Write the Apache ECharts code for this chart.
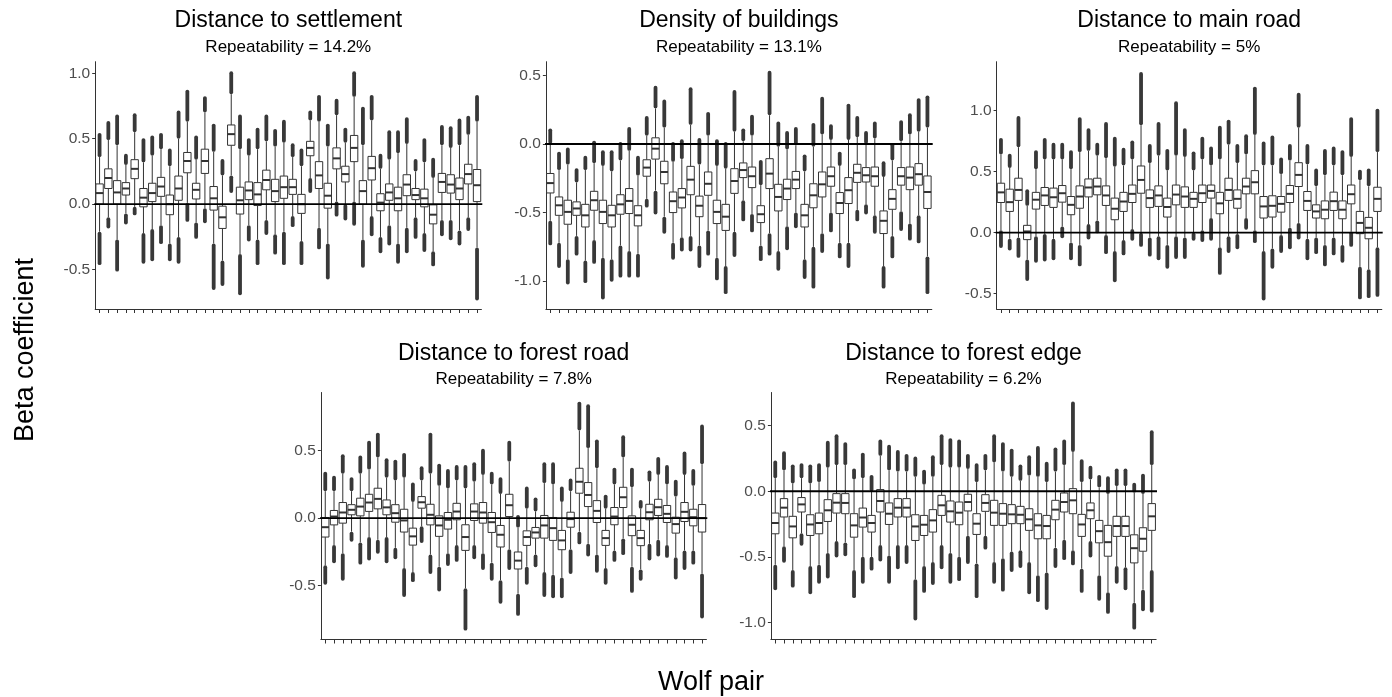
<!DOCTYPE html>
<html><head><meta charset="utf-8">
<script src="https://cdn.jsdelivr.net/npm/echarts@6/dist/echarts.min.js"></script>
<style>html,body{margin:0;padding:0;background:#fff}#c{width:1392px;height:697px}</style>
</head><body><div id="c"></div>
<script>
// Wolf pairs (x categories)
const pairs = ["1","2","3","4","5","6","7","8","9","10","11","12","13","14","15","16","17","18","19","20","21","22","23","24","25","26","27","28","29","30","31","32","33","34","35","36","37","38","39","40","41","42","43","44"];

// Each box: [lowest outlier, lower whisker, Q1, median, Q3, upper whisker, highest outlier]
const settlement = [
[-0.45,-0.21,0.0,0.085,0.155,0.36,0.53],[-0.17,-0.10,0.12,0.20,0.27,0.49,0.62],[-0.50,-0.27,0.0,0.09,0.18,0.45,0.67],[-0.14,-0.07,0.07,0.12,0.165,0.30,0.37],
[-0.07,-0.02,0.195,0.27,0.34,0.55,0.68],[-0.44,-0.22,-0.02,0.05,0.12,0.32,0.49],[-0.42,-0.19,0.02,0.085,0.16,0.37,0.51],[-0.29,-0.16,0.06,0.135,0.205,0.42,0.53],
[-0.42,-0.30,-0.08,0.0,0.07,0.29,0.41],[-0.44,-0.25,0.03,0.12,0.215,0.50,0.70],[-0.12,0.01,0.24,0.33,0.395,0.63,0.86],[-0.25,-0.14,0.04,0.11,0.16,0.34,0.51],
[-0.13,-0.03,0.235,0.33,0.42,0.70,0.81],[-0.64,-0.30,-0.045,0.045,0.135,0.40,0.60],[-0.61,-0.43,-0.185,-0.10,-0.015,0.22,0.33],[0.10,0.22,0.45,0.535,0.605,0.84,1.0],
[-0.68,-0.38,-0.075,0.03,0.13,0.42,0.67],[-0.27,-0.16,0.035,0.105,0.17,0.37,0.49],[-0.45,-0.27,-0.01,0.075,0.165,0.42,0.57],[-0.22,-0.12,0.11,0.185,0.26,0.48,0.67],
[-0.37,-0.23,0.02,0.10,0.19,0.44,0.56],[-0.45,-0.21,0.045,0.13,0.215,0.47,0.63],[-0.16,-0.09,0.075,0.13,0.19,0.36,0.45],[-0.45,-0.28,-0.07,0.0,0.075,0.29,0.41],
[0.10,0.20,0.37,0.43,0.48,0.64,0.70],[-0.33,-0.18,0.12,0.22,0.325,0.63,0.82],[-0.56,-0.30,-0.03,0.065,0.16,0.44,0.60],[-0.08,0.02,0.27,0.35,0.43,0.68,0.79],
[-0.11,0.0,0.17,0.23,0.29,0.47,0.57],[-0.15,0.02,0.325,0.43,0.525,0.82,1.0],[-0.47,-0.27,0.0,0.10,0.18,0.45,0.73],[-0.23,-0.09,0.185,0.275,0.365,0.64,0.82],
[-0.36,-0.25,-0.05,0.012,0.08,0.27,0.37],[-0.30,-0.16,0.03,0.09,0.155,0.34,0.55],[-0.44,-0.30,-0.05,0.045,0.13,0.39,0.55],[-0.36,-0.18,0.065,0.15,0.225,0.46,0.65],
[-0.25,-0.10,0.035,0.07,0.12,0.25,0.33],[-0.35,-0.22,-0.02,0.045,0.115,0.32,0.49],[-0.46,-0.36,-0.15,-0.08,-0.005,0.20,0.34],[-0.23,-0.12,0.09,0.17,0.235,0.45,0.59],
[-0.26,-0.12,0.085,0.15,0.225,0.43,0.58],[-0.30,-0.20,0.035,0.12,0.20,0.45,0.64],[-0.19,-0.10,0.155,0.23,0.305,0.53,0.66],[-0.72,-0.33,0.02,0.145,0.265,0.63,0.82]
];
const buildings = [
[-0.725,-0.56,-0.357,-0.285,-0.215,0.0,0.10],[-0.89,-0.72,-0.52,-0.447,-0.386,-0.19,-0.07],[-1.01,-0.84,-0.585,-0.495,-0.41,-0.15,-0.04],[-0.80,-0.67,-0.52,-0.47,-0.422,-0.28,-0.19],
[-1.0,-0.85,-0.605,-0.52,-0.44,-0.19,-0.10],[-0.86,-0.70,-0.483,-0.41,-0.345,-0.14,0.01],[-1.12,-0.83,-0.58,-0.495,-0.41,-0.16,-0.06],[-0.99,-0.84,-0.605,-0.52,-0.447,-0.20,-0.06],
[-0.96,-0.74,-0.512,-0.44,-0.37,-0.12,0.0],[-0.96,-0.78,-0.507,-0.415,-0.325,-0.05,0.11],[-0.96,-0.80,-0.597,-0.52,-0.45,-0.23,-0.10],[-0.45,-0.40,-0.235,-0.172,-0.115,0.06,0.19],
[-0.50,-0.34,-0.11,-0.034,0.045,0.26,0.41],[-0.64,-0.53,-0.29,-0.204,-0.126,0.12,0.31],[-0.83,-0.72,-0.50,-0.417,-0.35,-0.13,0.0],[-0.77,-0.68,-0.466,-0.39,-0.325,-0.11,0.02],
[-0.77,-0.67,-0.37,-0.26,-0.163,0.14,0.40],[-0.89,-0.74,-0.53,-0.45,-0.38,-0.15,0.03],[-0.80,-0.63,-0.374,-0.29,-0.204,0.06,0.22],[-0.98,-0.83,-0.58,-0.495,-0.41,-0.16,0.02],
[-1.08,-0.89,-0.63,-0.53,-0.44,-0.18,0.0],[-0.81,-0.64,-0.36,-0.27,-0.18,0.09,0.38],[-0.55,-0.41,-0.245,-0.19,-0.138,0.02,0.10],[-0.63,-0.51,-0.318,-0.235,-0.168,0.06,0.20],
[-0.84,-0.74,-0.573,-0.512,-0.45,-0.30,-0.13],[-0.80,-0.65,-0.325,-0.216,-0.107,0.21,0.52],[-0.91,-0.78,-0.488,-0.386,-0.294,-0.02,0.15],[-0.76,-0.60,-0.405,-0.325,-0.257,-0.04,0.08],
[-0.60,-0.50,-0.325,-0.26,-0.20,-0.01,0.11],[-0.97,-0.84,-0.605,-0.52,-0.44,-0.20,-0.09],[-1.04,-0.75,-0.465,-0.374,-0.29,-0.02,0.14],[-0.78,-0.65,-0.386,-0.294,-0.204,0.07,0.33],
[-0.63,-0.50,-0.308,-0.235,-0.168,0.03,0.13],[-0.82,-0.72,-0.507,-0.43,-0.354,-0.16,-0.07],[-0.89,-0.72,-0.434,-0.337,-0.245,0.03,0.28],[-0.55,-0.48,-0.28,-0.21,-0.148,0.05,0.19],
[-0.50,-0.44,-0.277,-0.228,-0.172,0.0,0.08],[-0.64,-0.52,-0.308,-0.235,-0.168,0.04,0.15],[-1.04,-0.89,-0.653,-0.56,-0.488,-0.24,-0.14],[-0.82,-0.67,-0.476,-0.40,-0.333,-0.12,-0.01],
[-0.62,-0.49,-0.30,-0.235,-0.172,0.02,0.16],[-0.69,-0.58,-0.333,-0.245,-0.168,0.07,0.21],[-0.71,-0.52,-0.30,-0.22,-0.143,0.09,0.32],[-1.08,-0.82,-0.47,-0.35,-0.233,0.12,0.34]
];
const mainRoad = [
[-0.11,0.02,0.247,0.33,0.405,0.64,0.76],[-0.13,-0.05,0.174,0.25,0.356,0.53,0.63],[-0.19,-0.04,0.264,0.35,0.446,0.70,0.94],[-0.38,-0.22,-0.057,0.01,0.06,0.22,0.34],
[-0.23,-0.03,0.193,0.27,0.33,0.52,0.66],[-0.22,-0.01,0.223,0.305,0.37,0.60,0.76],[-0.21,-0.05,0.207,0.29,0.365,0.60,0.72],[-0.03,0.05,0.25,0.323,0.386,0.60,0.72],
[-0.21,-0.08,0.147,0.228,0.296,0.52,0.66],[-0.26,-0.10,0.20,0.296,0.383,0.66,0.93],[-0.04,0.07,0.293,0.37,0.44,0.67,0.84],[0.01,0.10,0.31,0.378,0.446,0.63,0.72],
[-0.16,-0.02,0.223,0.305,0.383,0.61,0.89],[-0.39,-0.15,0.106,0.196,0.283,0.54,0.77],[-0.17,-0.06,0.174,0.255,0.33,0.55,0.68],[-0.05,0.03,0.247,0.318,0.39,0.60,0.74],
[-0.10,0.0,0.323,0.432,0.546,0.88,1.30],[-0.18,-0.04,0.207,0.283,0.35,0.57,0.71],[-0.21,-0.03,0.215,0.305,0.383,0.63,0.89],[-0.28,-0.10,0.128,0.21,0.283,0.51,0.67],
[-0.20,-0.03,0.228,0.312,0.39,0.63,1.06],[-0.20,-0.04,0.207,0.296,0.375,0.62,0.84],[-0.05,0.0,0.207,0.277,0.33,0.51,0.65],[-0.06,0.02,0.247,0.323,0.39,0.60,0.77],
[-0.05,0.12,0.283,0.342,0.39,0.55,0.69],[-0.33,-0.12,0.155,0.24,0.33,0.60,0.86],[-0.15,-0.03,0.264,0.35,0.446,0.72,0.91],[-0.12,-0.01,0.20,0.277,0.35,0.57,0.71],
[0.04,0.12,0.318,0.378,0.446,0.64,0.79],[-0.07,0.02,0.318,0.413,0.508,0.80,1.18],[-0.54,-0.15,0.12,0.215,0.296,0.55,0.73],[-0.28,-0.13,0.128,0.22,0.302,0.55,0.78],
[-0.15,-0.02,0.168,0.236,0.296,0.48,0.60],[-0.12,0.04,0.247,0.318,0.386,0.59,0.71],[-0.04,0.08,0.378,0.473,0.573,0.86,1.13],[-0.21,-0.05,0.182,0.26,0.337,0.56,0.71],
[-0.16,-0.04,0.12,0.174,0.228,0.38,0.51],[-0.26,-0.10,0.114,0.188,0.26,0.47,0.67],[-0.17,-0.04,0.182,0.258,0.332,0.55,0.69],[-0.23,-0.10,0.114,0.188,0.26,0.47,0.66],
[-0.10,0.01,0.236,0.315,0.39,0.62,0.93],[-0.53,-0.28,-0.008,0.08,0.174,0.43,0.50],[-0.52,-0.30,-0.05,0.04,0.125,0.38,0.51],[-0.51,-0.12,0.174,0.277,0.372,0.66,1.0]
];
const forestRoad = [
[-0.48,-0.35,-0.14,-0.067,0.005,0.20,0.33],[-0.32,-0.20,-0.05,0.012,0.057,0.20,0.30],[-0.45,-0.26,-0.037,0.042,0.116,0.33,0.46],[-0.16,-0.10,0.025,0.062,0.10,0.20,0.29],
[-0.33,-0.18,0.017,0.086,0.148,0.33,0.45],[-0.30,-0.14,0.05,0.116,0.177,0.36,0.56],[-0.25,-0.16,0.069,0.143,0.222,0.45,0.62],[-0.32,-0.14,0.025,0.08,0.135,0.30,0.43],
[-0.29,-0.22,-0.03,0.037,0.10,0.28,0.42],[-0.57,-0.37,-0.103,-0.017,0.066,0.30,0.47],[-0.46,-0.40,-0.20,-0.135,-0.074,0.12,0.25],[-0.17,-0.06,0.074,0.118,0.16,0.28,0.37],
[-0.40,-0.27,-0.05,0.025,0.103,0.33,0.62],[-0.53,-0.36,-0.135,-0.054,0.017,0.24,0.39],[-0.34,-0.26,-0.081,-0.012,0.042,0.22,0.35],[-0.31,-0.20,-0.012,0.049,0.11,0.28,0.38],
[-0.82,-0.52,-0.239,-0.14,-0.049,0.22,0.38],[-0.29,-0.20,-0.017,0.049,0.106,0.27,0.40],[-0.37,-0.26,-0.037,0.042,0.116,0.32,0.50],[-0.45,-0.33,-0.106,-0.03,0.042,0.25,0.33],
[-0.62,-0.46,-0.214,-0.123,-0.054,0.18,0.29],[-0.37,-0.23,0.012,0.096,0.177,0.42,0.56],[-0.71,-0.56,-0.377,-0.315,-0.251,-0.07,0.01],[-0.48,-0.36,-0.202,-0.14,-0.094,0.07,0.22],
[-0.35,-0.27,-0.148,-0.106,-0.069,0.05,0.14],[-0.57,-0.40,-0.148,-0.054,0.02,0.26,0.40],[-0.58,-0.42,-0.165,-0.074,0.005,0.25,0.40],[-0.58,-0.44,-0.234,-0.165,-0.091,0.12,0.22],
[-0.40,-0.23,-0.067,-0.007,0.044,0.20,0.28],[-0.18,-0.10,0.185,0.27,0.37,0.65,0.85],[-0.27,-0.19,0.086,0.172,0.264,0.52,0.83],[-0.39,-0.27,-0.032,0.054,0.13,0.37,0.57],
[-0.48,-0.37,-0.202,-0.148,-0.091,0.07,0.16],[-0.31,-0.24,-0.049,0.012,0.079,0.25,0.36],[-0.26,-0.15,0.079,0.155,0.229,0.45,0.60],[-0.54,-0.36,-0.13,-0.049,0.017,0.23,0.36],
[-0.45,-0.38,-0.204,-0.148,-0.091,0.07,0.12],[-0.30,-0.19,-0.012,0.044,0.103,0.27,0.34],[-0.27,-0.16,0.02,0.081,0.14,0.32,0.44],[-0.28,-0.20,-0.032,0.032,0.094,0.25,0.38],
[-0.44,-0.29,-0.111,-0.044,0.007,0.16,0.27],[-0.37,-0.24,-0.025,0.047,0.116,0.32,0.48],[-0.33,-0.24,-0.057,0.007,0.066,0.24,0.35],[-0.73,-0.41,-0.103,0.0,0.101,0.40,0.68]
];
const forestEdge = [
[-0.74,-0.56,-0.324,-0.242,-0.166,0.10,0.22],[-0.53,-0.42,-0.196,-0.125,-0.056,0.16,0.29],[-0.72,-0.60,-0.355,-0.268,-0.191,0.06,0.19],[-0.40,-0.32,-0.158,-0.10,-0.048,0.10,0.20],
[-0.77,-0.57,-0.337,-0.253,-0.179,0.06,0.19],[-0.69,-0.56,-0.324,-0.242,-0.166,0.07,0.20],[-0.65,-0.47,-0.23,-0.145,-0.064,0.18,0.37],[-0.49,-0.38,-0.166,-0.087,-0.018,0.20,0.42],
[-0.48,-0.39,-0.171,-0.089,-0.018,0.20,0.36],[-0.80,-0.60,-0.35,-0.26,-0.171,0.09,0.16],[-0.69,-0.50,-0.273,-0.20,-0.128,0.10,0.28],[-0.59,-0.50,-0.311,-0.242,-0.184,0.0,0.11],
[-0.52,-0.41,-0.158,-0.074,0.013,0.27,0.38],[-0.69,-0.49,-0.253,-0.171,-0.089,0.16,0.34],[-0.58,-0.41,-0.196,-0.125,-0.056,0.15,0.30],[-0.54,-0.41,-0.196,-0.125,-0.056,0.15,0.27],
[-0.97,-0.67,-0.375,-0.268,-0.179,0.11,0.25],[-0.76,-0.57,-0.337,-0.255,-0.184,0.05,0.15],[-0.70,-0.54,-0.311,-0.222,-0.14,0.11,0.26],[-0.58,-0.41,-0.184,-0.107,-0.031,0.20,0.42],
[-0.69,-0.47,-0.235,-0.153,-0.074,0.18,0.39],[-0.67,-0.50,-0.255,-0.163,-0.082,0.18,0.38],[-0.54,-0.34,-0.15,-0.082,-0.023,0.17,0.27],[-0.80,-0.55,-0.329,-0.247,-0.171,0.07,0.20],
[-0.43,-0.34,-0.153,-0.089,-0.026,0.16,0.27],[-0.69,-0.54,-0.26,-0.163,-0.069,0.22,0.42],[-0.75,-0.51,-0.26,-0.171,-0.094,0.15,0.36],[-0.60,-0.46,-0.247,-0.176,-0.102,0.11,0.31],
[-0.57,-0.45,-0.247,-0.179,-0.115,0.08,0.19],[-0.77,-0.54,-0.298,-0.214,-0.133,0.12,0.26],[-0.83,-0.64,-0.362,-0.26,-0.171,0.11,0.33],[-0.89,-0.62,-0.362,-0.265,-0.184,0.07,0.21],
[-0.57,-0.43,-0.217,-0.14,-0.069,0.15,0.32],[-0.51,-0.37,-0.158,-0.082,-0.013,0.20,0.38],[-0.55,-0.45,-0.171,-0.069,0.02,0.30,0.67],[-0.76,-0.59,-0.344,-0.253,-0.176,0.07,0.23],
[-0.49,-0.38,-0.209,-0.145,-0.089,0.09,0.18],[-0.82,-0.64,-0.393,-0.304,-0.222,0.03,0.11],[-0.92,-0.77,-0.495,-0.388,-0.26,-0.02,0.10],[-0.69,-0.57,-0.344,-0.265,-0.191,0.04,0.16],
[-0.74,-0.58,-0.344,-0.265,-0.191,0.04,0.16],[-1.04,-0.85,-0.546,-0.434,-0.332,-0.01,0.05],[-0.90,-0.75,-0.457,-0.362,-0.278,-0.02,0.12],[-0.91,-0.60,-0.298,-0.191,-0.094,0.20,0.45]
];

const panelTitles = ["Distance to settlement","Density of buildings","Distance to main road","Distance to forest road","Distance to forest edge"];
const panelSubtitles = ["Repeatability = 14.2%","Repeatability = 13.1%","Repeatability = 5%","Repeatability = 7.8%","Repeatability = 6.2%"];
const yTicks1 = [-0.5, 0.0, 0.5, 1.0];
const yTicks2 = [-1.0, -0.5, 0.0, 0.5];
const yTicks3 = [-0.5, 0.0, 0.5, 1.0];
const yTicks4 = [-0.5, 0.0, 0.5];
const yTicks5 = [-1.0, -0.5, 0.0, 0.5];
const referenceLine = [0];
const yAxisTitle = "Beta coefficient";
const xAxisTitle = "Wolf pair";

// ---- layout (positions / styles) ----
const panelData = [settlement, buildings, mainRoad, forestRoad, forestEdge];
const panelTicks = [yTicks1, yTicks2, yTicks3, yTicks4, yTicks5];
// ggplot panel frames: left, right, top, bottom, ymin, ymax
const frames = [
  {L:94.3, R:482.3, T:61.7, B:309, ymin:-0.80, ymax:1.088, ty:21, sy:47},
  {L:545.0, R:932.7, T:61.7, B:309, ymin:-1.203, ymax:0.60, ty:21, sy:47},
  {L:995.7, R:1382.7, T:61.7, B:309, ymin:-0.625, ymax:1.40, ty:21, sy:47},
  {L:320.0, R:707.3, T:392.5, B:639.5, ymin:-0.90, ymax:0.932, ty:354, sy:379.5},
  {L:770.0, R:1157.0, T:392.5, B:639.5, ymin:-1.13, ymax:0.753, ty:354, sy:379.5}
];
const FONT = 'Liberation Sans, Arial, Helvetica, sans-serif';
const DARK = '#333333';

function renderBox(params, api) {
  const i = api.value(0);
  const v = [1,2,3,4,5,6,7].map(k => api.value(k));
  const band = api.size([1, 0])[0];
  const w = band * 0.84;
  const cx = api.coord([i, 0])[0];
  const py = k => api.coord([i, v[k]])[1];
  const r = 1.9;
  const children = [
    {type:'line', shape:{x1:cx, y1:py(1), x2:cx, y2:py(2)}, style:{stroke:DARK, lineWidth:1}},
    {type:'line', shape:{x1:cx, y1:py(4), x2:cx, y2:py(5)}, style:{stroke:DARK, lineWidth:1}},
    {type:'rect', shape:{x:cx - w/2, y:py(4), width:w, height:py(2) - py(4)}, style:{fill:'#fff', stroke:DARK, lineWidth:1}},
    {type:'line', shape:{x1:cx - w/2, y1:py(3), x2:cx + w/2, y2:py(3)}, style:{stroke:DARK, lineWidth:2}}
  ];
  // lower outliers (dense run of points)
  let s = py(1) + r, e = py(0);
  if (e > s) children.push({type:'line', shape:{x1:cx, y1:s, x2:cx, y2:e}, style:{stroke:'#383838', lineWidth:2*r, lineCap:'round'}});
  else children.push({type:'circle', shape:{cx:cx, cy:e, r:r}, style:{fill:'#383838'}});
  // upper outliers
  s = py(5) - r; e = py(6);
  if (e < s) children.push({type:'line', shape:{x1:cx, y1:s, x2:cx, y2:e}, style:{stroke:'#383838', lineWidth:2*r, lineCap:'round'}});
  else children.push({type:'circle', shape:{cx:cx, cy:e, r:r}, style:{fill:'#383838'}});
  return {type:'group', children};
}
function renderRef(params, api) {
  const band = api.size([1, 0])[0];
  const cs = params.coordSys;
  const y = api.coord([0, api.value(1)])[1];
  return {type:'line', shape:{x1:cs.x - band*0.1, y1:y, x2:cs.x + cs.width + band*0.1, y2:y}, style:{stroke:'#000', lineWidth:1.8}};
}

const grid = [], xAxis = [], yAxis = [], series = [], graphic = [];
frames.forEach((f, p) => {
  const u = (f.R - f.L) / (pairs.length + 0.2);
  grid.push({left: f.L + 0.1*u, width: u * pairs.length, top: f.T, height: f.B - f.T, containLabel:false});
  xAxis.push({type:'category', gridIndex:p, data:pairs, boundaryGap:true, position:'bottom',
    axisLine:{onZero:false, lineStyle:{color:DARK, width:1}},
    axisTick:{show:true, alignWithLabel:true, interval:0, length:4, lineStyle:{color:DARK, width:1}},
    axisLabel:{show:true, interval:0, formatter:() => '', fontSize:1}, splitLine:{show:false}});
  yAxis.push({type:'value', gridIndex:p, min:f.ymin, max:f.ymax,
    axisLine:{show:true, onZero:false, lineStyle:{color:DARK, width:1}},
    axisTick:{show:true, length:3, customValues:panelTicks[p], lineStyle:{color:DARK, width:1}},
    axisLabel:{customValues:panelTicks[p], formatter:v => v.toFixed(1), color:'#4d4d4d', fontSize:15.5, fontFamily:FONT, margin:5},
    splitLine:{show:false}});
  series.push({type:'custom', xAxisIndex:p, yAxisIndex:p, renderItem:renderBox, clip:false,
    encode:{x:0, y:[1,2,3,4,5,6,7]},
    data: panelData[p].map((b, i) => [i].concat(b))});
  series.push({type:'custom', xAxisIndex:p, yAxisIndex:p, renderItem:renderRef, z:5, clip:false,
    encode:{x:0, y:1},
    data: referenceLine.map(v => [0, v])});
  const cx = (f.L + f.R) / 2;
  graphic.push({type:'text', x:cx, y:f.ty, style:{text:panelTitles[p], font:'23px ' + FONT, fill:'#000', textAlign:'center', textVerticalAlign:'middle'}});
  graphic.push({type:'text', x:cx, y:f.sy, style:{text:panelSubtitles[p], font:'17px ' + FONT, fill:'#000', textAlign:'center', textVerticalAlign:'middle'}});
});
graphic.push({type:'text', x:26, y:350, rotation:Math.PI/2, style:{text:yAxisTitle, font:'27px ' + FONT, fill:'#000', textAlign:'center', textVerticalAlign:'middle'}});
graphic.push({type:'text', x:711, y:683, style:{text:xAxisTitle, font:'27px ' + FONT, fill:'#000', textAlign:'center', textVerticalAlign:'middle'}});

const chart = echarts.init(document.getElementById('c'), null, {renderer:'canvas'});
chart.setOption({animation:false, backgroundColor:'#fff', grid, xAxis, yAxis, series, graphic});
</script></body></html>
